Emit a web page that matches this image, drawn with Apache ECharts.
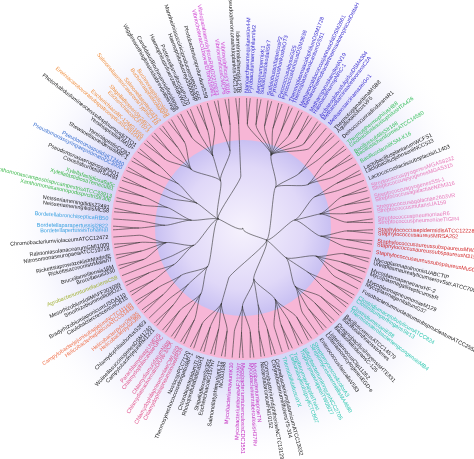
<!DOCTYPE html>
<html>
<head>
<meta charset="UTF-8" />
<script src="https://cdn.jsdelivr.net/npm/echarts@6/dist/echarts.min.js"></script>
<style>html,body{margin:0;padding:0;background:#fff;}</style>
</head>
<body>
<div id="main" style="width:474px;height:459px;"></div>
<script type="text/javascript">
// clades, clockwise starting at 12 o'clock
var cladeNames = ['Blue','Dark11','Green','Dark12','Strep','Staph','Myco','Teal1','Dark1','Teal2','Coryne','Mycobact','Dark2','Chlamydia','Dark3','Helico','Dark4','Agro','Dark5','Bordetella','Dark6','Xantho','Dark7','Pseudo','Dark8','Orange','Dark9','Vibrio','Dark10'];
var cladeColors = ['#3a2fd0','#222','#3cc060','#222','#e878b8','#d42a2a','#222','#2fc8b0','#222','#2fc8b0','#222','#c42cc0','#222','#e0508a','#222','#f0704a','#222','#a0b030','#222','#38a0e0','#222','#3cb84a','#222','#3a70d0','#222','#f09040','#222','#d040d0','#222'];
var cladeLeaves = [
  ['NanoarchaeumequitansKin4-M','PyrobaculumaerophilumIM2','AeropyrumpernixK1','SulfolobustokodaiiStr7','SulfolobussolfataricusP2','PyrococcushorikoshiiOT3','PyrococcusabyssiGE5','PyrococcusfuriosusDSM3638','ThermoplasmaacidophilumDSM1728','ThermoplasmavolcaniumGSS1','MethanocaldococcusjannaschiiDSM2661','MethanothermobacterthermautotrophicusDeltaH','MethanopyruskandleriAV19','HalobacteriumspNRC-1','ArchaeoglobusfulgidusDSM4304','MethanosarcinaacetivoransC2A','MethanosarcinamazeiGo1'],
  ['ThermotogamaritimaMSB8','AquifexaeolicusVF5','DeinococcusradioduransR1'],
  ['ThermusthermophilusHB8','GeobacilluskaustophilusHTA426','BacillussubtilisStr168','BacilluslicheniformisATCC14580','BacillusclausiiKSM-K16'],
  ['LactobacillusplantarumWCFS1','LactobacillusjohnsoniiNCC533','LactococcuslactissubsplactisIL1403'],
  ['StreptococcuspyogenesMGAS8232','StreptococcuspyogenesMGAS315','StreptococcuspyogenesSSI-1','StreptococcusagalactiaeNEM316','Streptococcusagalactiae2603VR','StreptococcusmutansUA159','StreptococcuspneumoniaeR6','StreptococcuspneumoniaeTIGR4'],
  ['StaphylococcusepidermidisATCC12228','StaphylococcusaureusMRSA252','StaphylococcusaureussubspaureusMW2','StaphylococcusaureussubspaureusN315','StaphylococcusaureussubspaureusMu50'],
  ['MycoplasmapulmonisUABCTIP','UreaplasmaurealyticumserovSstr.ATCC700970','MycoplasmapenetransHF-2','MycoplasmagallisepticumstrR','MycoplasmapneumoniaeM129','MycoplasmagenitaliumG37','FusobacteriumnucleatumsubspnucleatumATCC25586'],
  ['ClostridiumacetobutylicumATCC824','ClostridiumperfringensStr13','ClostridiumtetaniE88','ThermoanaerobactertengcongensisMB4'],
  ['BacilluscereusATCC14579','BacillusanthracisstrAmes','OceanobacillusiheyensisHTE831','BacillushaloduransC-125','ListeriainnocuaClip11262','ListeriamonocytogenesEGD-e','EnterococcusfaecalisV583'],
  ['StreptomycescoelicolorA3','StreptomycesavermitilisMA4680','BifidobacteriumlongumNCC2705','TropherymawhippleiTW08/27','TropherymawhippleiTwist','LeifsoniaxylisubspxyliCTCB07','ThermobifidafuscaYX'],
  ['CorynebacteriumglutamicumATCC13032','CorynebacteriumefficiensYS-314','CorynebacteriumdiphtheriaeNCTC13129','NocardiafarcinicaIFM10152'],
  ['MycobacteriumlepraeTN','MycobacteriumtuberculosisH37Rv','MycobacteriumtuberculosisCDC1551','MycobacteriumbovisAF2122/97','MycobacteriumaviumK10'],
  ['NC003198','SalmonellatyphimuriumLT2','EscherichiacoliO157H7','ShigellaflexneriStr301','RhodopirellulabalticaSH1','ChlorobiumtepidumTLS','ThermosynechococcuselongatusBP-1','NostocspPCC7120'],
  ['ChlamydophilapneumoniaeAR39','ChlamydophilapneumoniaeCWL029','ChlamydiatrachomatisD/UW-3/CX','ChlamydiamuridarumNigg','ChlamydophilacaviaeGPIC','ParachlamydiaspUWE25'],
  ['CampylobacterjejuniRM1221','WolinellasuccinogenesDSM1740','ChlamydophilaabortusS26/3'],
  ['HelicobacterpyloriJ99','Helicobacterpylori26695','HelicobacterhepaticusATCC51449','CampylobacterjejunisubspjejuniNCTC11168'],
  ['CaulobactercrescentusCB15','BradyrhizobiumjaponicumUSDA110','SinorhizobiummelilotiIO21','MesorhizobiumlotiMAFF303099'],
  ['AgrobacteriumtumefaciensC58'],
  ['BrucellasuisI330','Brucellamelitensis16M','RickettsiaconoriistrMalish7','RickettsiaprowazekiistrMadridE','NitrosomonaseuropaeaATCC19718','RalstoniasolanacearumGMI1000','ChromobacteriumviolaceumATCC12472'],
  ['BordetellapertussisTohamaI','Bordetellaparapertussisl2822','BordetellabronchisepticaRB50'],
  ['NeisseriameningitidisMC58','NeisseriameningitidisZ2491'],
  ['XanthomonasaxonopodispvcitriStr306','XanthomonascampestrispvcampestrisATCC33913','XylellafastidiosaTemecula1','Xylellafastidiosa9a5c'],
  ['CoxiellaburnetiiRSA493','PseudomonasaeruginosaPAO1'],
  ['PseudomonassyringaepvtomatoDC3000','PseudomonasputidaKT2440'],
  ['ShewanellaoneidensisMR-1','YersiniapestisCO92','YersiniapestisKIM10+','PhotorhabdusluminescenssubsplaumondiiTTO1'],
  ['ErwiniacarotovorasubspatrosepticaSCRI1043','EscherichiacoliK-12MG1655','EscherichiacoliCFT073','ShigellaflexneriStr2457T','SalmonellaentericaserovarTyphiCT18','SalmonellaentericaTy2','BuchneraaphidicolaAPS','BuchneraaphidicolaSg'],
  ['WigglesworthiaglossinidiabrevipalpisWgb','CandidatusBlochmanniafloridanus','HaemophilusinfluenzaeRdKW20','PasteurellamultocidaPm70','Haemophilusducreyi35000HP','MannheimiasucciniciproducensMBEL55E','PhotobacteriumprofundumSS9'],
  ['VibriocholeraeO1biovarElTorN16961','VibrioparahaemolyticusRIMD2210633','VibriovulnificusCMCP6','VibriovulnificusYJ016'],
  ['PseudoalteromonashaloplanktisTAC125','IdiomarinaloihiensisL2TR']
];

function chunk(arr, n) {
  var out = [];
  for (var i = 0; i < arr.length; i += n) out.push(arr.slice(i, i + n));
  return out;
}

var groups = cladeNames.map(function (c, i) {
  var color = cladeColors[i];
  return {
    name: c,
    children: chunk(cladeLeaves[i], 2).map(function (p, j) {
      return {
        name: c + j,
        children: p.map(function (n) {
          return { name: n, label: { color: color } };
        })
      };
    })
  };
});
// two large halves, then root
var half = 13;
var treeData = {
  name: 'root',
  children: [
    { name: 'A', children: chunk(groups.slice(0, half), 3).map(function (g, k) { return { name: 'A' + k, children: g }; }) },
    { name: 'B', children: chunk(groups.slice(half), 3).map(function (g, k) { return { name: 'B' + k, children: g }; }) }
  ]
};

var myChart = echarts.init(document.getElementById('main'));
myChart.setOption({
  backgroundColor: '#fff',
  graphic: [
    { type: 'circle', z: -10, shape: { cx: 243, cy: 228, r: 240 },
      style: { fill: new echarts.graphic.RadialGradient(0.5, 0.5, 0.5, [
        { offset: 0, color: '#c8c8f6' }, { offset: 0.6, color: '#d8d8f8' }, { offset: 1, color: 'rgba(255,255,255,0)' }]) } },
    { type: 'circle', z: -9, shape: { cx: 243, cy: 228, r: 132 }, style: { fill: '#f7b6d6' } },
    { type: 'circle', z: -8, shape: { cx: 243, cy: 228, r: 88 },
      style: { fill: new echarts.graphic.RadialGradient(0.5, 0.5, 0.5, [
        { offset: 0, color: '#f6f2fd' }, { offset: 0.7, color: '#e0d8f8' }, { offset: 1, color: '#c8c0f2' }]) } }
  ],
  series: [{
    type: 'tree',
    data: [treeData],
    layout: 'radial',
    left: 113, right: 101, top: 98, bottom: 101,
    symbol: 'none',
    symbolSize: 0,
    roam: false,
    expandAndCollapse: false,
    initialTreeDepth: -1,
    animation: false,
    lineStyle: { color: '#333', width: 0.6, curveness: 0.2 },
    label: { show: false },
    leaves: {
      label: { show: true, fontSize: 5.5, fontFamily: 'Liberation Sans', color: '#222' }
    }
  }]
});
</script>
</body>
</html>
